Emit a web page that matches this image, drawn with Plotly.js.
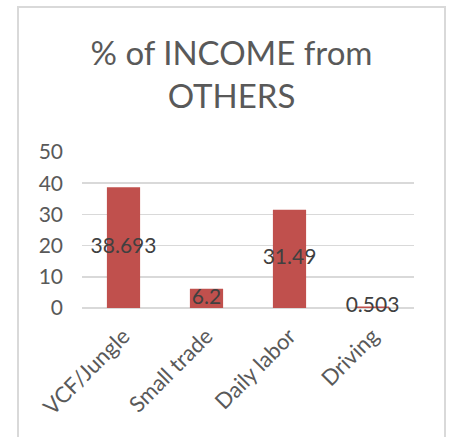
<!DOCTYPE html>
<html>
<head>
<meta charset="utf-8">
<script src="https://cdn.plot.ly/plotly-3.0.1.min.js"></script>
<style>html,body{margin:0;padding:0;background:#fff;}#chart{width:452px;height:437px;}</style>
</head>
<body>
<div id="chart"></div>
<script>
var categories = ["VCF/Jungle", "Small trade", "Daily labor", "Driving"];
var values = [38.693, 6.2, 31.49, 0.503];
var labels = ["38.693", "6.2", "31.49", "0.503"];
var yTicks = [0, 10, 20, 30, 40, 50];

var FONT = "Lato, 'Open Sans', sans-serif";

var bars = {
  type: "bar",
  x: categories,
  y: values,
  marker: {color: "#C0504D"},
  hoverinfo: "none",
  showlegend: false
};
var dataLabels = {
  type: "scatter",
  mode: "text",
  x: categories,
  y: values.map(function(v){ return v / 2; }),
  text: labels,
  textposition: "middle center",
  textfont: {family: FONT, size: 21, color: "#404040"},
  hoverinfo: "none",
  showlegend: false,
  cliponaxis: false
};

var L = 82, R = 414, T = 152, B = 308, W = 452, H = 437;
function px(x){ return (x - L) / (R - L); }
function py(y){ return (B - y) / (B - T); }

var layout = {
  width: W, height: H,
  margin: {l: L, r: W - R, t: T, b: H - B, pad: 0},
  paper_bgcolor: "#ffffff",
  plot_bgcolor: "rgba(0,0,0,0)",
  bargap: 0.6,
  title: {
    text: "% of INCOME from<br>OTHERS",
    font: {family: FONT, size: 33, color: "#595959"},
    x: 231.5 / W, xanchor: "center", xref: "container",
    y: 1 - 65 / H, yanchor: "top", yref: "container"
  },
  xaxis: {
    type: "category",
    tickangle: -45,
    tickfont: {family: FONT, size: 22, color: "#595959"},
    showgrid: false, zeroline: false,
    showline: false, ticks: "", ticklabelstandoff: 10,
    fixedrange: true
  },
  yaxis: {
    range: [0, 50],
    tickvals: yTicks,
    tickfont: {family: FONT, size: 21, color: "#595959"},
    showgrid: true, gridcolor: "#D9D9D9", gridwidth: 1.5,
    zeroline: true, zerolinecolor: "#D9D9D9", zerolinewidth: 1.5,
    showline: false, ticks: "", ticklabelstandoff: 18,
    fixedrange: true
  },
  shapes: [{
    type: "rect", xref: "paper", yref: "paper",
    x0: px(18), x1: px(445), y0: py(445), y1: py(7),
    line: {color: "#D9D9D9", width: 2},
    fillcolor: "rgba(0,0,0,0)", layer: "below"
  }]
};

Plotly.newPlot("chart", [bars, dataLabels], layout, {staticPlot: true, displayModeBar: false});
</script>
</body>
</html>
